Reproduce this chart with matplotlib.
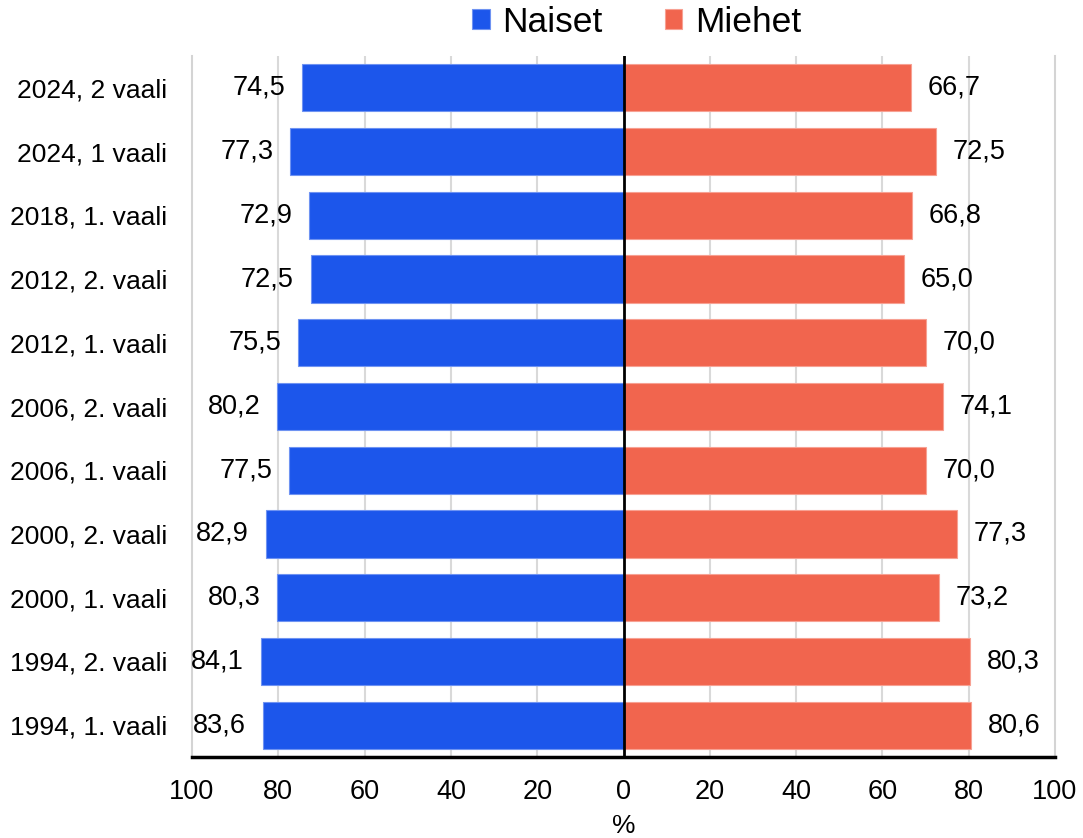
import matplotlib
matplotlib.use("Agg")
import matplotlib.pyplot as plt
from matplotlib.patches import Patch
import numpy as np

categories = ["2024, 2 vaali", "2024, 1 vaali", "2018, 1. vaali", "2012, 2. vaali",
              "2012, 1. vaali", "2006, 2. vaali", "2006, 1. vaali", "2000, 2. vaali",
              "2000, 1. vaali", "1994, 2. vaali", "1994, 1. vaali"]
naiset = [74.5, 77.3, 72.9, 72.5, 75.5, 80.2, 77.5, 82.9, 80.3, 84.1, 83.6]
miehet = [66.7, 72.5, 66.8, 65.0, 70.0, 74.1, 70.0, 77.3, 73.2, 80.3, 80.6]
xticks = [-100, -80, -60, -40, -20, 0, 20, 40, 60, 80, 100]
xticklabels = ["100", "80", "60", "40", "20", "0", "20", "40", "60", "80", "100"]

BLUE = "#1c56eb"
RED = "#f1654e"

plt.rcParams['font.family'] = ['Liberation Sans', 'DejaVu Sans']

fig = plt.figure(figsize=(10.83, 8.38), dpi=100)
ax = fig.add_axes([192/1083, 81/838, (1055-192)/1083, (757-56)/838])

y = np.arange(len(categories))[::-1]
bn = ax.barh(y, [-v for v in naiset], height=0.74, color=BLUE, edgecolor="#6f93f2",
             linewidth=0.8, zorder=2)
bm = ax.barh(y, miehet, height=0.74, color=RED, edgecolor="#f7a193",
             linewidth=0.8, zorder=2)

fmt = lambda v: f"{v:.1f}".replace(".", ",")
ax.bar_label(bn, labels=[fmt(v) for v in naiset], padding=12, fontsize=19.5)
ax.bar_label(bm, labels=[fmt(v) for v in miehet], padding=12, fontsize=19.5)

ax.axvline(0, color="black", lw=2, zorder=3)
ax.set_xlim(-100, 100)
ax.set_ylim(-0.5, len(categories) - 0.5)
ax.set_xticks(xticks)
ax.set_xticklabels(xticklabels, fontsize=19.5)
ax.set_yticks(y)
ax.set_yticklabels(categories, fontsize=19)
ax.tick_params(axis="x", length=0, pad=16)
ax.tick_params(axis="y", length=0, pad=18)
ax.set_xlabel("%", fontsize=19, labelpad=6)

for xv in [-80, -60, -40, -20, 20, 40, 60, 80]:
    ax.axvline(xv, color="#d9d9d9", lw=1.5, zorder=1)

ax.spines["top"].set_visible(False)
ax.spines["left"].set_color("#d4d4d4")
ax.spines["left"].set_linewidth(1.5)
ax.spines["right"].set_color("#d4d4d4")
ax.spines["right"].set_linewidth(1.5)
ax.spines["bottom"].set_color("black")
ax.spines["bottom"].set_linewidth(2.5)
ax.spines["bottom"].set_zorder(4)

handles = [Patch(facecolor=BLUE, edgecolor="#6f93f2", lw=0.8, label="Naiset"),
           Patch(facecolor=RED, edgecolor="#f7a193", lw=0.8, label="Miehet")]
fig.legend(handles=handles, loc="center", bbox_to_anchor=(636.5/1083, 1 - 22/838),
           ncol=2, frameon=False, fontsize=25.5, handlelength=0.5, handleheight=0.5,
           handletextpad=0.35, columnspacing=1.75, borderpad=0)

fig.savefig("out.png", dpi=100)
